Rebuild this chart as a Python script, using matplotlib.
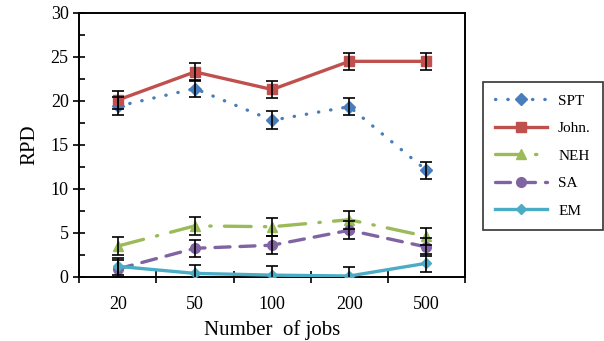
import matplotlib.pyplot as plt
from matplotlib.ticker import MultipleLocator, FixedLocator, NullFormatter

plt.rcParams["font.family"] = ["Liberation Serif", "DejaVu Serif"]

# job sizes and mean RPD per method
jobs = ["20", "50", "100", "200", "500"]
spt = [19.4, 21.4, 17.8, 19.35, 12.1]
john = [20.1, 23.3, 21.3, 24.5, 24.5]
neh = [3.5, 5.8, 5.7, 6.5, 4.6]
sa = [0.9, 3.25, 3.6, 5.3, 3.4]
em = [1.2, 0.4, 0.2, 0.1, 1.55]
err = [1.0, 1.0, 1.0, 1.0, 1.0]

fig = plt.figure(figsize=(6.04, 3.41), dpi=100)
ax = fig.add_axes([0.131, 0.188, 0.639, 0.774])

x = list(range(len(jobs)))
series = [
    ("SPT", spt, "#4a7ebb", (0, (0.1, 3.6)), "D", 6),
    ("John.", john, "#c0504d", "-", "s", 7),
    ("NEH", neh, "#9bbb59", (0, (8, 4, 0.4, 4)), "^", 7),
    ("SA", sa, "#8064a2", (0, (4.5, 3)), "o", 7),
    ("EM", em, "#4bacc6", "-", "D", 5),
]
for name, vals, col, ls, mk, ms in series:
    ax.plot(x, vals, linestyle=ls, color=col, linewidth=2.4, marker=mk,
            markersize=ms, label=name, zorder=3, dash_capstyle="round")
    ax.errorbar(x, vals, yerr=err, linestyle="None", marker="None",
                ecolor="black", elinewidth=1.2, capsize=4, capthick=1.2, zorder=4)

ax.set_xlim(-0.5, 4.5)
ax.set_ylim(0, 30)
ax.xaxis.set_major_locator(FixedLocator([-0.5, 0.5, 1.5, 2.5, 3.5, 4.5]))
ax.xaxis.set_major_formatter(NullFormatter())
ax.xaxis.set_minor_locator(FixedLocator(x))
ax.set_xticklabels(jobs, minor=True)
ax.tick_params(axis="x", which="major", direction="inout", length=8, width=1.2)
ax.tick_params(axis="x", which="minor", length=0, pad=14, labelsize=13)
ax.yaxis.set_major_locator(MultipleLocator(5))
ax.yaxis.set_minor_locator(MultipleLocator(2.5))
ax.tick_params(axis="y", which="major", direction="inout", length=8, width=1.2, labelsize=13)
ax.tick_params(axis="y", which="minor", direction="in", length=4, width=1.2)
for s in ax.spines.values():
    s.set_linewidth(1.4)

ax.set_xlabel("Number  of jobs", fontsize=15, labelpad=5)
ax.set_ylabel("RPD", fontsize=15, labelpad=8)

leg = ax.legend(loc="upper left", bbox_to_anchor=(1.047, 0.739), frameon=True,
                fancybox=False, edgecolor="black", fontsize=11,
                handlelength=3.4, labelspacing=0.9, borderpad=0.8,
                handletextpad=0.7, borderaxespad=0)
leg.get_frame().set_linewidth(1.2)

fig.savefig("out.png", dpi=100)
